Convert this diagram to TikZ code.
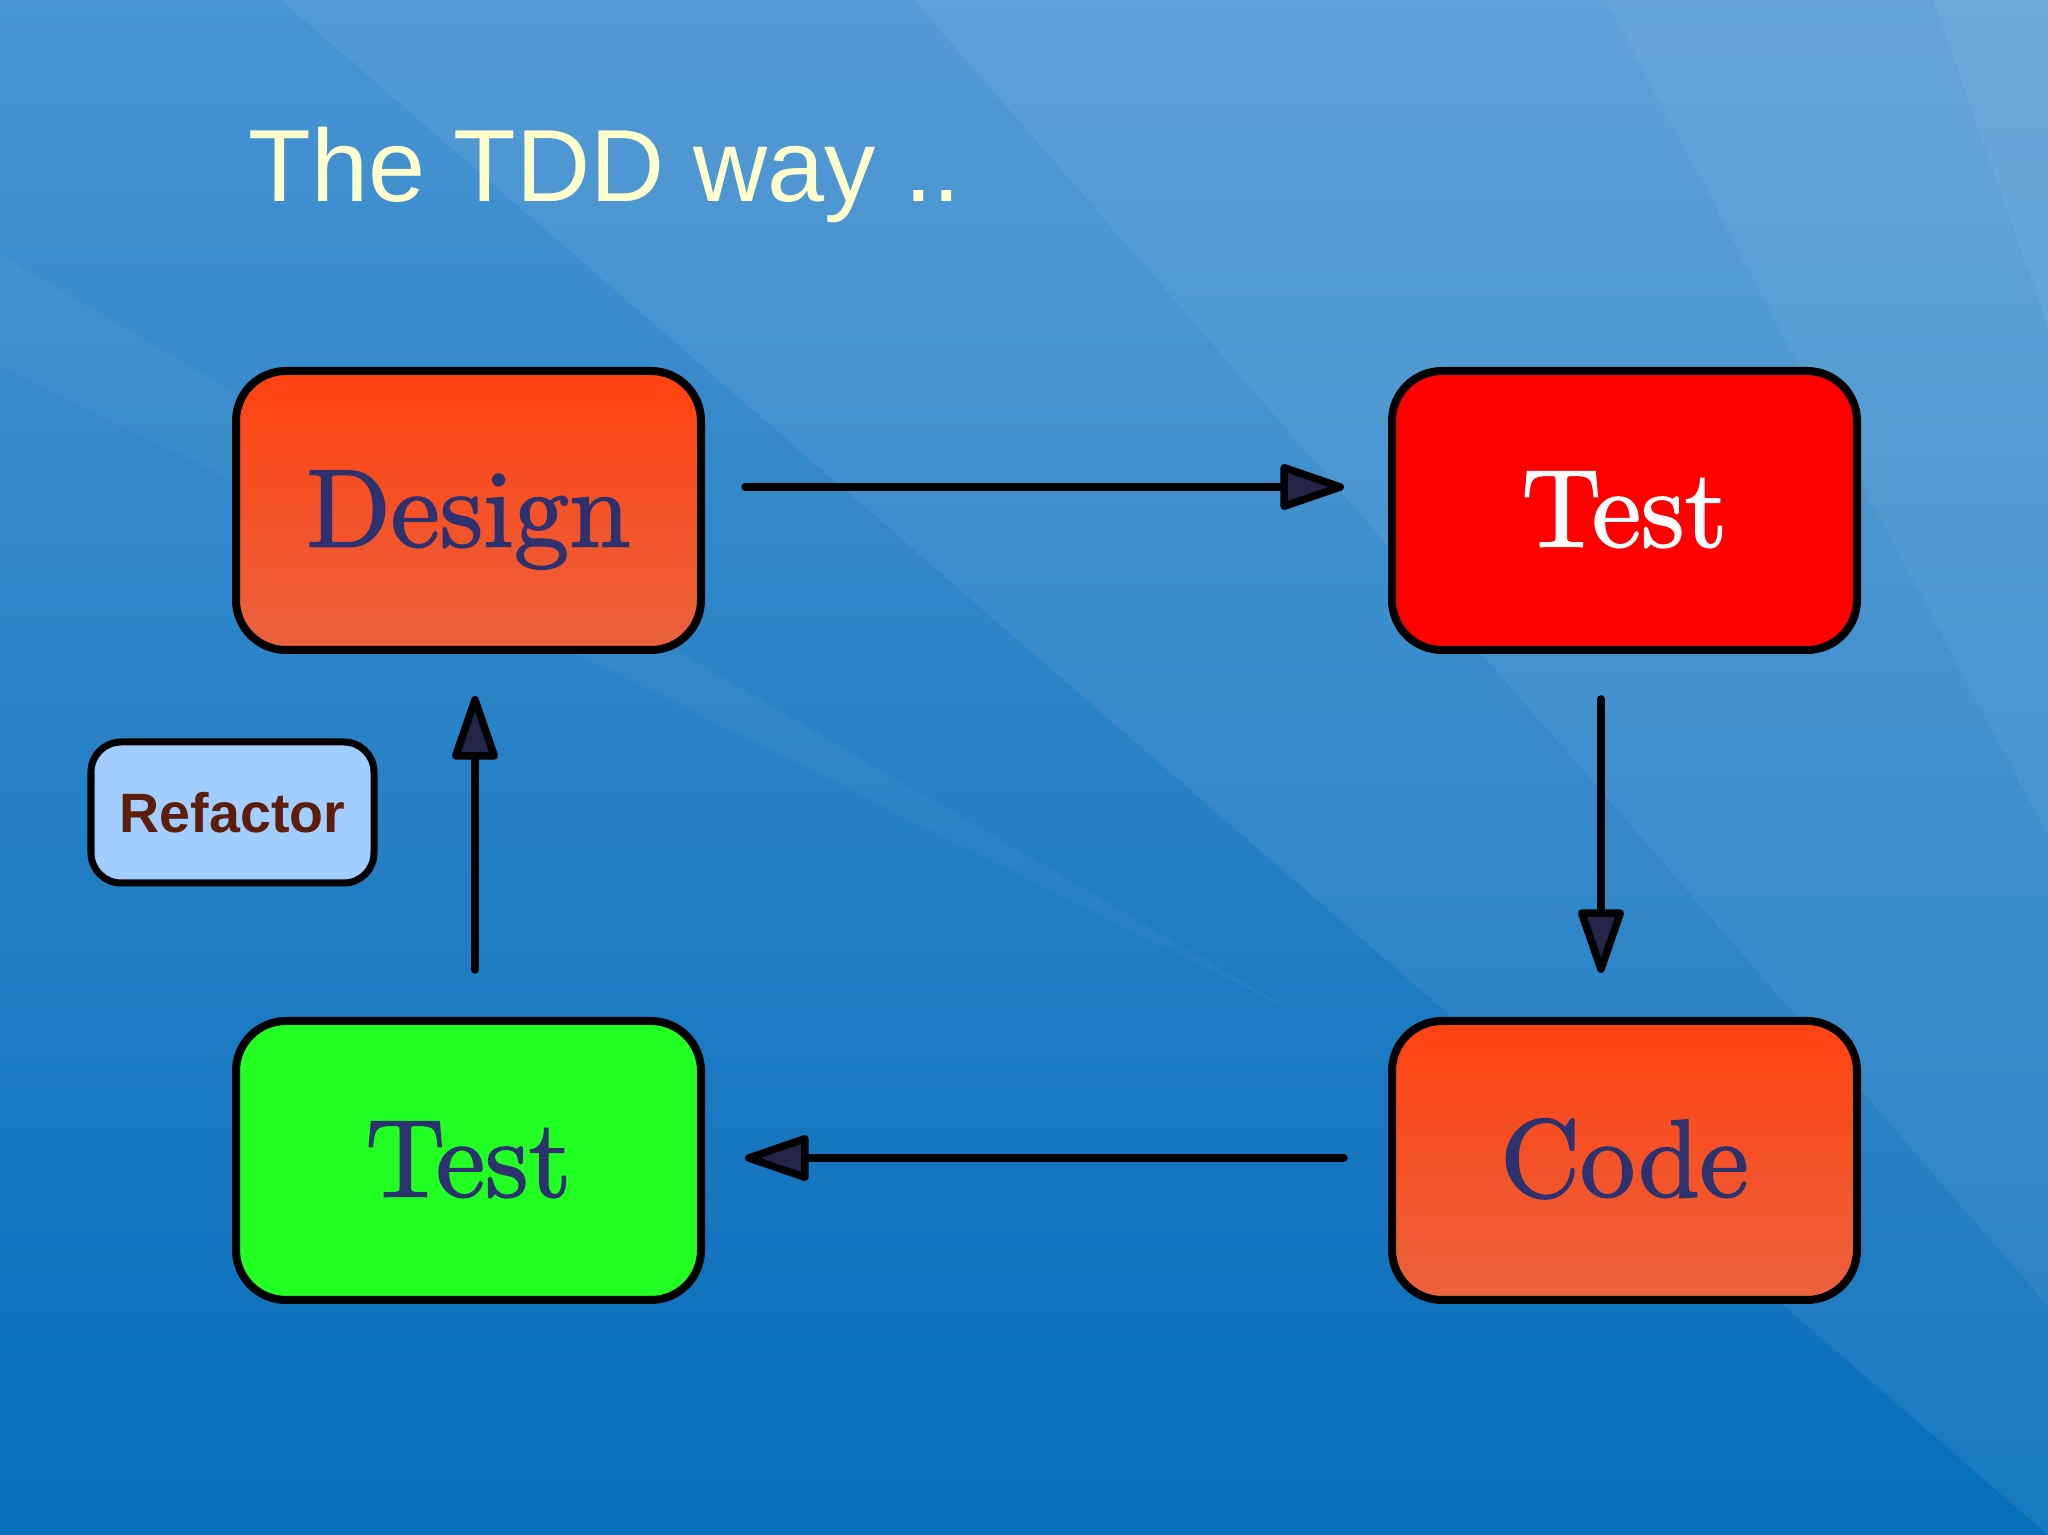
\documentclass[tikz,border=0pt]{standalone}
\usepackage{fontspec}
\newfontfamily\arialish{Liberation Sans}
\newfontfamily\cmten{lmroman10-regular}[Extension=.otf, FakeBold=1.6]
\usetikzlibrary{arrows.meta,calc}
\definecolor{bgtop}{RGB}{72,148,210}
\definecolor{bgbot}{RGB}{6,110,186}
\definecolor{titlecol}{RGB}{255,255,205}
\definecolor{orangetop}{RGB}{255,66,16}
\definecolor{orangebot}{RGB}{234,98,62}
\definecolor{redfill}{RGB}{255,0,0}
\definecolor{greenfill}{RGB}{34,255,34}
\definecolor{navytext}{RGB}{45,50,110}
\definecolor{reffill}{RGB}{162,206,255}
\definecolor{reftext}{RGB}{92,30,10}
\definecolor{tipfill}{RGB}{36,36,72}
\tikzset{
  stagebox/.style={draw=black, line width=0.08cm, rounded corners=0.5cm,
    minimum width=4.65cm, minimum height=2.79cm, inner sep=0pt,
    font=\cmten\fontsize{31.4}{36}\selectfont, text height=0.72cm, text depth=0cm},
  orangebox/.style={stagebox, top color=orangetop, bottom color=orangebot, text=navytext},
  flowarrow/.style={line width=0.075cm, line cap=round,
    -{Triangle[length=0.72cm,width=0.47cm,fill=tipfill,line join=round]}},
  ray/.style={white, opacity=#1}
}
\begin{document}
\begin{tikzpicture}
\useasboundingbox (0,0) rectangle (20.48,15.35);
% background
\shade[top color=bgtop, bottom color=bgbot] (0,0) rectangle (20.48,15.35);
\fill[ray=0.07] (2.81,15.35) -- (20.48,15.35) -- (20.48,0) -- cycle;
\fill[ray=0.06] (9.14,15.35) -- (20.48,15.35) -- (20.48,2.29) -- cycle;
\fill[ray=0.05] (16.06,15.35) -- (20.48,15.35) -- (20.48,6.99) -- cycle;
\fill[ray=0.06] (19.33,15.35) -- (20.48,15.35) -- (20.48,12.08) -- cycle;
\fill[ray=0.035] (0,12.8) -- (0,11.7) -- (13.0,5.2) -- cycle;
% title
\node[anchor=base west, inner sep=0pt, text=titlecol, font=\arialish\fontsize{29.2}{34}\selectfont] (title) at (2.48,13.33) {The TDD way ..};
% boxes
\node[orangebox] (design) at (4.685,10.245) {Design};
\node[stagebox, fill=redfill, text=white] (testred) at (16.245,10.245) {Test};
\node[orangebox] (code) at (16.245,3.745) {Code};
\node[stagebox, fill=greenfill, text=navytext] (testgreen) at (4.685,3.745) {Test};
\node[draw=black, line width=0.07cm, rounded corners=0.3cm, fill=reffill, text=reftext,
  minimum width=2.83cm, minimum height=1.41cm, inner sep=0pt,
  font=\arialish\bfseries\fontsize{15.8}{18}\selectfont] (refactor) at (2.325,7.225) {Refactor};
% arrows
\draw[flowarrow] ($(design.east)+(0.40,0.235)$) -- ($(testred.west)+(-0.44,0.235)$);
\draw[flowarrow] ($(testred.south)+(-0.235,-0.45)$) -- ($(code.north)+(-0.235,0.44)$);
\draw[flowarrow] ($(code.west)+(-0.44,0.025)$) -- ($(testgreen.east)+(0.40,0.025)$);
\draw[flowarrow] ($(testgreen.north)+(0.065,0.47)$) -- ($(design.south)+(0.065,-0.42)$);
\end{tikzpicture}
\end{document}
